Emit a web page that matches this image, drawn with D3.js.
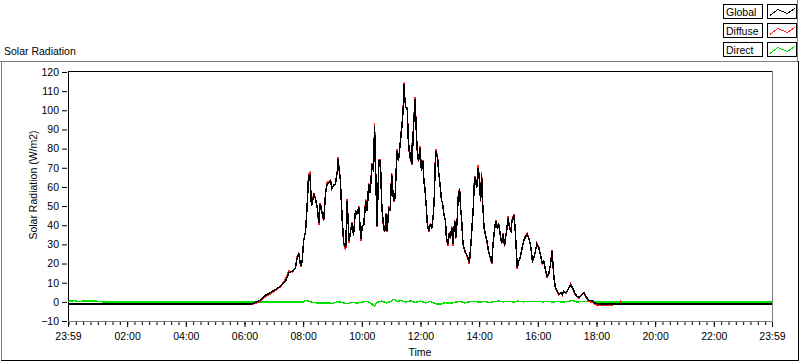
<!DOCTYPE html>
<html>
<head>
<meta charset="utf-8">
<script src="https://cdn.jsdelivr.net/npm/d3@7"></script>
<style>
    body { margin: 0; background: #fff; }
    svg text { font-family: "Liberation Sans", Arial, sans-serif; font-size: 10.5px; fill: #000; }
</style>
</head>
<body>
<script>
//wrap everything in an anonymous function so nothing is global
(function () {

    //series, as [time, W/m2]
    var globalData = [
        ["00:00", -1], ["06:16", -1], ["06:33", 1.0], ["06:40", 3], ["06:53", 4.8], ["07:04", 6.5],
        ["07:14", 8.3], ["07:24", 10.9], ["07:31", 15.2], ["07:38", 16.1], ["07:44", 17.8], ["07:48", 23],
        ["07:51", 24.8], ["07:55", 18.7], ["07:58", 21.3], ["08:01", 31.8], ["08:05", 37], ["08:08", 49.2],
        ["08:11", 65.7], ["08:14", 66], ["08:17", 50], ["08:22", 56], ["08:25", 54], ["08:29", 49],
        ["08:32", 41.3], ["08:35", 51], ["08:39", 46], ["08:42", 42.6], ["08:46", 57], ["08:49", 61.4],
        ["08:52", 62], ["08:56", 63.1], ["08:59", 59], ["09:03", 61], ["09:06", 61.5], ["09:10", 68.3],
        ["09:11", 74.4], ["09:14", 68], ["09:16", 64], ["09:20", 42.2], ["09:23", 30.9], ["09:27", 28],
        ["09:30", 52.6], ["09:32", 42], ["09:34", 31.8], ["09:37", 37], ["09:40", 41.3], ["09:43", 35],
        ["09:47", 47.4], ["09:50", 46], ["09:54", 49.2], ["09:58", 32.6], ["10:01", 39.6], ["10:04", 40.5],
        ["10:08", 52.7], ["10:11", 47.4], ["10:14", 61.4], ["10:17", 57], ["10:21", 71.8], ["10:24", 68],
        ["10:26", 91.8], ["10:28", 73], ["10:29", 61.4], ["10:31", 39.6], ["10:35", 73.5], ["10:38", 73.5],
        ["10:41", 49.2], ["10:45", 38], ["10:47", 37], ["10:50", 45.7], ["10:52", 37], ["10:55", 49.2],
        ["10:58", 47.4], ["11:01", 66.6], ["11:03", 59.6], ["11:05", 52.6], ["11:08", 54.4], ["11:12", 78.8],
        ["11:15", 73.5], ["11:19", 84], ["11:23", 94.4], ["11:25", 103], ["11:26", 113.6], ["11:28", 106],
        ["11:30", 101.4], ["11:33", 100.5], ["11:35", 85], ["11:37", 78.8], ["11:40", 73.5], ["11:42", 82],
        ["11:43", 72], ["11:45", 87.5], ["11:46", 92.7], ["11:49", 105.7], ["11:51", 92], ["11:53", 80.5],
        ["11:56", 73.5], ["11:59", 80.5], ["12:02", 68.3], ["12:05", 73.5], ["12:07", 63], ["12:09", 59.6],
        ["12:12", 49.2], ["12:14", 40.5], ["12:17", 37], ["12:20", 40], ["12:23", 38.5], ["12:26", 44.8],
        ["12:28", 52.6], ["12:31", 78.8], ["12:35", 75], ["12:37", 68.3], ["12:40", 61.4], ["12:43", 53],
        ["12:45", 52], ["12:48", 45.7], ["12:51", 42.6], ["12:53", 33.5], ["12:56", 30], ["12:59", 35.6],
        ["13:01", 33.5], ["13:04", 38.7], ["13:06", 30], ["13:10", 42.2], ["13:12", 33.5], ["13:15", 42.2],
        ["13:17", 54.4], ["13:20", 58.7], ["13:22", 49], ["13:24", 43.9], ["13:27", 30], ["13:31", 26.5],
        ["13:34", 24.8], ["13:37", 23], ["13:40", 20.4], ["13:42", 26.5], ["13:44", 33.5], ["13:48", 49.2],
        ["13:50", 61.4], ["13:52", 65], ["13:55", 59.6], ["13:58", 70], ["14:00", 65], ["14:03", 52.6],
        ["14:05", 66.6], ["14:07", 52.6], ["14:10", 38.7], ["14:13", 35], ["14:16", 31.8], ["14:19", 26.5],
        ["14:23", 23], ["14:26", 20.4], ["14:28", 29], ["14:31", 37], ["14:34", 42.2], ["14:37", 38.7],
        ["14:40", 40.5], ["14:44", 33.5], ["14:46", 30.9], ["14:49", 35.3], ["14:52", 29.2], ["14:54", 33.5],
        ["14:57", 38.7], ["14:59", 43.9], ["15:02", 38.7], ["15:05", 37], ["15:07", 42], ["15:09", 43.9],
        ["15:11", 44.8], ["15:13", 40.5], ["15:15", 31.8], ["15:18", 17.8], ["15:21", 21.3], ["15:24", 23],
        ["15:28", 28.3], ["15:31", 31.8], ["15:34", 33.5], ["15:38", 35.3], ["15:41", 33.5], ["15:45", 30],
        ["15:49", 21.3], ["15:52", 23], ["15:55", 26.5], ["15:58", 30], ["16:02", 28.3], ["16:05", 24.8],
        ["16:09", 20.4], ["16:12", 21.3], ["16:16", 16.1], ["16:19", 13.5], ["16:22", 14.3], ["16:26", 19.5],
        ["16:29", 26.5], ["16:31", 19.5], ["16:33", 12.6], ["16:36", 7.4], ["16:40", 5.6], ["16:43", 3.9],
        ["16:47", 4.8], ["16:50", 3.9], ["16:53", 5.6], ["16:57", 4.8], ["17:00", 5.6], ["17:04", 7.4],
        ["17:07", 8.8], ["17:11", 7.4], ["17:14", 5.6], ["17:17", 3.9], ["17:20", 3], ["17:24", 2.2],
        ["17:27", 3], ["17:31", 3.9], ["17:34", 4.8], ["17:38", 3], ["17:41", 1.8], ["17:45", 0.8],
        ["17:52", 0.4], ["17:56", -0.5], ["18:01", -1], ["23:59", -1]
    ];

    var diffuseData = [
        ["00:00", -1], ["06:16", -1.2], ["06:33", 0.2], ["06:40", 2.2], ["06:53", 4.2], ["07:04", 6.0],
        ["07:14", 8.0], ["07:24", 11.8], ["07:31", 16.2], ["07:38", 15.6], ["07:44", 17.8], ["07:48", 23.8],
        ["07:51", 25.5], ["07:55", 18.2], ["07:58", 21.3], ["08:01", 31.8], ["08:05", 37], ["08:08", 49.2],
        ["08:11", 67], ["08:14", 67.5], ["08:17", 50], ["08:22", 56.8], ["08:25", 54], ["08:29", 49],
        ["08:32", 40.3], ["08:35", 51.8], ["08:39", 46], ["08:42", 42], ["08:46", 57.5], ["08:49", 62.4],
        ["08:52", 62.8], ["08:56", 63.8], ["08:59", 59], ["09:03", 61], ["09:06", 61.5], ["09:10", 68.8],
        ["09:11", 75.8], ["09:14", 68.5], ["09:16", 64], ["09:20", 42.2], ["09:23", 30.2], ["09:27", 27],
        ["09:30", 53.5], ["09:32", 42], ["09:34", 31], ["09:37", 37], ["09:40", 41.8], ["09:43", 34.5],
        ["09:47", 48], ["09:50", 46], ["09:54", 49.8], ["09:58", 32], ["10:01", 39.6], ["10:04", 40.5],
        ["10:08", 53.4], ["10:11", 47.4], ["10:14", 62], ["10:17", 57], ["10:21", 72.6], ["10:24", 68],
        ["10:26", 93.5], ["10:28", 73], ["10:29", 61.4], ["10:31", 39], ["10:35", 74.3], ["10:38", 74],
        ["10:41", 49.2], ["10:45", 37.4], ["10:47", 37], ["10:50", 46.3], ["10:52", 36.5], ["10:55", 49.8],
        ["10:58", 47.4], ["11:01", 67.5], ["11:03", 59.6], ["11:05", 52], ["11:08", 54.4], ["11:12", 80],
        ["11:15", 73.5], ["11:19", 84.6], ["11:23", 95.2], ["11:25", 103.6], ["11:26", 114.5], ["11:28", 106.5],
        ["11:30", 101.4], ["11:33", 101.3], ["11:35", 85], ["11:37", 78.2], ["11:40", 73], ["11:42", 82.8],
        ["11:43", 71.4], ["11:45", 88.2], ["11:46", 93.3], ["11:49", 107], ["11:51", 92], ["11:53", 80],
        ["11:56", 73], ["11:59", 81.4], ["12:02", 68.3], ["12:05", 74.2], ["12:07", 63], ["12:09", 59.6],
        ["12:12", 49.2], ["12:14", 40.5], ["12:17", 36.4], ["12:20", 40.5], ["12:23", 38.5], ["12:26", 44.8],
        ["12:28", 53.2], ["12:31", 80], ["12:35", 75.6], ["12:37", 68.3], ["12:40", 61.4], ["12:43", 53],
        ["12:45", 52], ["12:48", 45.7], ["12:51", 42.6], ["12:53", 33], ["12:56", 29.4], ["12:59", 36.2],
        ["13:01", 33], ["13:04", 39.3], ["13:06", 29.4], ["13:10", 42.8], ["13:12", 33], ["13:15", 42.2],
        ["13:17", 54.9], ["13:20", 59.5], ["13:22", 49], ["13:24", 43.9], ["13:27", 30], ["13:31", 26],
        ["13:34", 24.8], ["13:37", 22.6], ["13:40", 19.6], ["13:42", 26.5], ["13:44", 33.5], ["13:48", 49.2],
        ["13:50", 62], ["13:52", 65.8], ["13:55", 59.6], ["13:58", 71.5], ["14:00", 65], ["14:03", 52],
        ["14:05", 68], ["14:07", 52.6], ["14:10", 38.7], ["14:13", 35], ["14:16", 31.3], ["14:19", 26.5],
        ["14:23", 22.5], ["14:26", 19.6], ["14:28", 29], ["14:31", 37], ["14:34", 42.8], ["14:37", 38.7],
        ["14:40", 41], ["14:44", 33.5], ["14:46", 30.4], ["14:49", 35.8], ["14:52", 28.7], ["14:54", 33.5],
        ["14:57", 38.7], ["14:59", 44.6], ["15:02", 38.7], ["15:05", 37], ["15:07", 42.4], ["15:09", 44.4],
        ["15:11", 45.5], ["15:13", 40.5], ["15:15", 31.8], ["15:18", 17.2], ["15:21", 21.3], ["15:24", 23],
        ["15:28", 28.3], ["15:31", 31.8], ["15:34", 33.9], ["15:38", 35.8], ["15:41", 33.5], ["15:45", 30],
        ["15:49", 20.8], ["15:52", 23], ["15:55", 26.5], ["15:58", 30.4], ["16:02", 28.3], ["16:05", 24.8],
        ["16:09", 19.9], ["16:12", 21.3], ["16:16", 16.1], ["16:19", 13], ["16:22", 14.3], ["16:26", 19.5],
        ["16:29", 27.2], ["16:31", 19.5], ["16:33", 12.2], ["16:36", 7.4], ["16:40", 5.2], ["16:43", 3.5],
        ["16:47", 4.8], ["16:50", 3.5], ["16:53", 5.6], ["16:57", 4.4], ["17:00", 5.6], ["17:04", 7.4],
        ["17:07", 9.4], ["17:11", 7.4], ["17:14", 5.2], ["17:17", 3.5], ["17:20", 2.6], ["17:24", 1.8],
        ["17:27", 3], ["17:31", 3.9], ["17:34", 4.4], ["17:38", 2.6], ["17:41", 1.4], ["17:45", 0.2],
        ["17:52", -0.4], ["17:56", -1.2], ["18:01", -1.7], ["18:33", -1.8], ["18:35", -1], ["18:47", -1],
        ["18:49", 0], ["18:51", -1], ["23:59", -1]
    ];

    var directData = [
        ["00:00", 0.3], ["00:12", 0.6], ["00:20", 0.2], ["00:40", 0.5], ["01:00", 0.3], ["01:10", 0],
        ["08:00", 0], ["08:06", 0.8], ["08:12", 0.2], ["08:20", -0.3], ["08:30", -0.6], ["08:40", -0.7],
        ["08:50", -0.5], ["09:00", -0.8], ["09:10", 0.1], ["09:20", -0.4], ["09:30", -1], ["09:40", -0.2],
        ["09:50", -0.7], ["10:00", -0.2], ["10:10", 0.3], ["10:20", -0.9], ["10:26", -2.4], ["10:30", -0.4],
        ["10:40", 0.4], ["10:50", -0.6], ["11:00", 0.3], ["11:06", 1.4], ["11:12", 0.2], ["11:20", 0.7],
        ["11:30", -0.1], ["11:40", 0.5], ["11:50", -0.3], ["12:00", 0.4], ["12:10", -0.6], ["12:20", 0.2],
        ["12:30", -0.9], ["12:40", -1.3], ["12:50", -0.4], ["13:00", -0.8], ["13:10", -0.3], ["13:20", 0.2],
        ["13:30", -0.5], ["13:40", 0], ["13:50", 0.3], ["14:00", -0.2], ["14:10", 0.3], ["14:20", -0.4],
        ["14:30", 0.1], ["14:40", 0.4], ["14:50", 0], ["15:00", 0.3], ["15:10", -0.1], ["15:20", 0.4],
        ["15:30", 0], ["15:40", 0.2], ["15:50", 0.1], ["16:00", 0.3], ["16:10", 0], ["16:20", 0.2],
        ["16:30", 0], ["16:40", 0.1], ["16:50", 0], ["17:00", 0.1], ["17:10", 0.7], ["17:20", 0],
        ["17:30", 0.1], ["17:50", 0.5], ["18:00", 0], ["18:48", 0], ["18:50", -0.5], ["18:52", 0],
        ["23:59", 0]
    ];

    //axis ticks and labels
    var yTicks = [-10, 0, 10, 20, 30, 40, 50, 60, 70, 80, 90, 100, 110, 120];
    var xTickLabels = ["23:59", "02:00", "04:00", "06:00", "08:00", "10:00", "12:00",
        "14:00", "16:00", "18:00", "20:00", "22:00", "23:59"];

    //legend
    var seriesNames = ["Global", "Diffuse", "Direct"];
    var seriesColors = ["#000000", "#ff2020", "#00e000"];

    //turn "HH:MM" into minutes after midnight
    function toMin(s) {
        var p = s.split(":");
        return +p[0] * 60 + +p[1];
    }

    var width = 800,
        height = 361;

    var svg = d3.select("body")
        .append("svg")
        .attr("width", width)
        .attr("height", height);

    //plot frame
    var left = 68, right = 772, top = 72, bottom = 321;

    //scales: window runs 23:59 to 23:59
    var xScale = d3.scaleLinear().domain([-1, 1439]).range([left, right]);
    var yScale = d3.scaleLinear().domain([-10, 120]).range([bottom, top]);

    //outer sunken frame
    svg.append("line").attr("x1", 0).attr("x2", 798).attr("y1", 61.5).attr("y2", 61.5).attr("stroke", "#808080");
    svg.append("line").attr("x1", 1.5).attr("x2", 1.5).attr("y1", 61).attr("y2", 360).attr("stroke", "#808080");
    svg.append("line").attr("x1", 1).attr("x2", 799).attr("y1", 360.5).attr("y2", 360.5).attr("stroke", "#000");
    svg.append("line").attr("x1", 798.5).attr("x2", 798.5).attr("y1", 61).attr("y2", 361).attr("stroke", "#000");
    //legend panel edge
    svg.append("line").attr("x1", 797.5).attr("x2", 797.5).attr("y1", 0).attr("y2", 61).attr("stroke", "#808080");

    //chart title
    svg.append("text").attr("x", 4).attr("y", 55).text("Solar Radiation");

    //plot area borders (top/left black, bottom/right gray)
    svg.append("line").attr("x1", left).attr("x2", right).attr("y1", top - 0.5).attr("y2", top - 0.5).attr("stroke", "#000");
    svg.append("line").attr("x1", left + 0.5).attr("x2", left + 0.5).attr("y1", top - 1).attr("y2", bottom + 1).attr("stroke", "#000");
    svg.append("line").attr("x1", left).attr("x2", right + 1).attr("y1", bottom + 0.5).attr("y2", bottom + 0.5).attr("stroke", "#808080");
    svg.append("line").attr("x1", right + 0.5).attr("x2", right + 0.5).attr("y1", top - 1).attr("y2", bottom + 1).attr("stroke", "#808080");

    //y axis
    var yAxis = d3.axisLeft(yScale)
        .tickValues(yTicks)
        .tickSize(5)
        .tickPadding(3);
    var yG = svg.append("g")
        .attr("transform", "translate(" + (left - 1) + ",0)")
        .call(yAxis);
    yG.select(".domain").remove();
    yG.selectAll("text").style("font-size", "10.5px").style("font-family", "'Liberation Sans', Arial, sans-serif");

    //x axis minor ticks every 15 minutes
    var minorAxis = d3.axisBottom(xScale)
        .tickValues(d3.range(0, 1440, 15))
        .tickSize(3)
        .tickFormat("");
    var minorG = svg.append("g")
        .attr("transform", "translate(0," + (bottom + 1) + ")")
        .call(minorAxis);
    minorG.select(".domain").remove();

    //x axis major ticks every 2 hours, with labels
    var majorVals = d3.range(0, 1440, 120);
    majorVals[0] = -1;
    majorVals.push(1439);
    var majorAxis = d3.axisBottom(xScale)
        .tickValues(majorVals)
        .tickSize(5)
        .tickPadding(6)
        .tickFormat(function (d, i) { return xTickLabels[i]; });
    var majorG = svg.append("g")
        .attr("transform", "translate(0," + (bottom + 1) + ")")
        .call(majorAxis);
    majorG.select(".domain").remove();
    majorG.selectAll("text").style("font-size", "10.5px").style("font-family", "'Liberation Sans', Arial, sans-serif");

    //axis titles
    svg.append("text")
        .attr("x", (left + right) / 2)
        .attr("y", 356)
        .attr("text-anchor", "middle")
        .text("Time");
    svg.append("text")
        .attr("transform", "translate(37,185) rotate(-90)")
        .attr("text-anchor", "middle")
        .text("Solar Radiation (W/m2)");

    //lines, drawn Direct first so Global sits on top
    var line = d3.line()
        .x(function (d) { return xScale(toMin(d[0])); })
        .y(function (d) { return yScale(d[1]); });

    var plot = svg.append("g");
    var drawOrder = [[directData, 2], [diffuseData, 1], [globalData, 0]];
    drawOrder.forEach(function (s) {
        plot.append("path")
            .datum(s[0])
            .attr("fill", "none")
            .attr("stroke", seriesColors[s[1]])
            .attr("stroke-width", 1.5)
            .attr("shape-rendering", "crispEdges")
            .attr("d", line);
    });

    //legend boxes
    var swatchLine = d3.line();
    var swatchPts = [[2, 11], [10, 5], [19, 9], [27, 4]];
    seriesNames.forEach(function (name, i) {
        var y0 = 4.5 + i * 19;
        svg.append("rect")
            .attr("x", 723.5).attr("y", y0)
            .attr("width", 39).attr("height", 14)
            .attr("fill", "#fff").attr("stroke", "#000");
        svg.append("text")
            .attr("x", 726).attr("y", y0 + 11)
            .text(name);
        svg.append("rect")
            .attr("x", 767.5).attr("y", y0)
            .attr("width", 29).attr("height", 14)
            .attr("fill", "#fff").attr("stroke", "#000");
        svg.append("path")
            .attr("transform", "translate(768," + y0 + ")")
            .attr("d", swatchLine(swatchPts))
            .attr("fill", "none")
            .attr("stroke", seriesColors[i])
            .attr("stroke-width", 1)
            .attr("shape-rendering", "crispEdges");
    });

})();
</script>
</body>
</html>
